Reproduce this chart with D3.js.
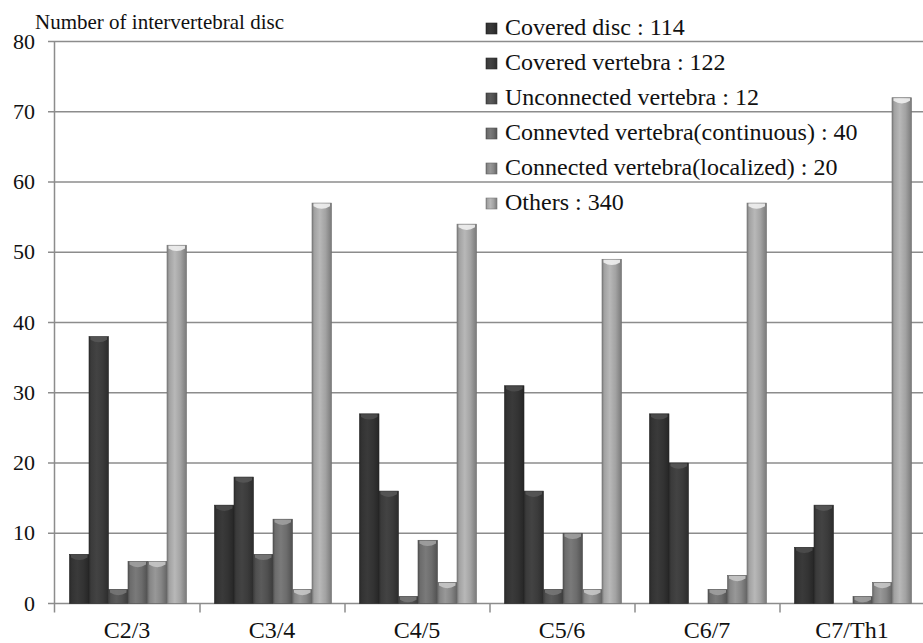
<!DOCTYPE html>
<html><head><meta charset="utf-8">
<script src="https://cdn.jsdelivr.net/npm/d3@7"></script>
<style>body{margin:0;background:#fff}svg{display:block}text{font-family:"Liberation Serif","Tinos","DejaVu Serif","Times New Roman",serif}</style>
</head><body>
<svg id="c" width="923" height="643"></svg>
<script>
const categories = ["C2/3","C3/4","C4/5","C5/6","C6/7","C7/Th1"];
const seriesNames = ["Covered disc : 114","Covered vertebra : 122","Unconnected vertebra : 12","Connevted vertebra(continuous) : 40","Connected vertebra(localized) : 20","Others : 340"];
const coveredDisc = [7,14,27,31,27,8];
const coveredVertebra = [38,18,16,16,20,14];
const unconnected = [2,7,1,2,0,0];
const continuous = [6,12,9,10,2,1];
const localized = [6,2,3,2,4,3];
const others = [51,57,54,49,57,72];
const yTicks = [0,10,20,30,40,50,60,70,80];
const seriesColors = ["#333333","#3b3b3b","#505050","#6c6c6c","#868686","#a2a2a2"];
const seriesValues = [coveredDisc,coveredVertebra,unconnected,continuous,localized,others];

const svg = d3.select("#c");
const pLeft = 55, pRight = 925, pTop = 41.5, pBottom = 603.5;

const y = d3.scaleLinear().domain([0,80]).range([pBottom, pTop]);
const x0 = d3.scaleBand().domain(categories).range([pLeft, pRight]);
const x1 = d3.scaleBand().domain(d3.range(6)).range([14.5, 131.5]);

// gradients
const defs = svg.append("defs");
seriesColors.forEach((c,i)=>{
  const g = defs.append("linearGradient").attr("id","g"+i).attr("x1","0").attr("x2","1").attr("y1","0").attr("y2","0");
  const base = d3.color(c);
  [[0,base.darker(0.7)],[0.12,base],[0.4,base.brighter(0.35)],[0.7,base],[1,base.darker(0.8)]].forEach(([o,col])=>{
    g.append("stop").attr("offset",o).attr("stop-color",col.formatHex());
  });
});

// gridlines
svg.append("g").selectAll("line").data(yTicks).join("line")
  .attr("x1",48).attr("x2",923).attr("y1",d=>y(d)).attr("y2",d=>y(d))
  .attr("stroke","#8c8c8c").attr("stroke-width",1.5);

// y axis line
svg.append("line").attr("x1",pLeft-0.5).attr("x2",pLeft-0.5).attr("y1",pTop).attr("y2",pBottom+9)
  .attr("stroke","#8c8c8c").attr("stroke-width",1.5);

// category ticks
svg.append("g").selectAll("line").data(categories.slice(1)).join("line")
  .attr("x1",d=>x0(d)).attr("x2",d=>x0(d)).attr("y1",pBottom).attr("y2",pBottom+9)
  .attr("stroke","#8c8c8c").attr("stroke-width",1.5);

// y labels
svg.append("g").selectAll("text").data(yTicks).join("text")
  .attr("x",35).attr("y",d=>y(d)+7).attr("text-anchor","end")
  .attr("font-size",22).attr("fill","#111").text(d=>d);

// title
svg.append("text").attr("x",35).attr("y",29).attr("font-size",21)
  .attr("fill","#111").text("Number of intervertebral disc");

// bars
const groups = svg.append("g").selectAll("g").data(categories).join("g")
  .attr("transform",d=>`translate(${x0(d)},0)`);
groups.each(function(cat,ci){
  const g = d3.select(this);
  seriesValues.forEach((vals,si)=>{
    const v = vals[ci];
    if(v<=0) return;
    const bx = x1(si), bw = x1.bandwidth(), by = y(v), bh = y(0)-y(v);
    g.append("rect").attr("x",bx).attr("y",by).attr("width",bw).attr("height",bh)
      .attr("fill",`url(#g${si})`).attr("stroke",d3.color(seriesColors[si]).darker(1).formatHex()).attr("stroke-width",0.6);
    const capH = Math.min(7, bh);
    const base = d3.color(seriesColors[si]);
    g.append("path")
      .attr("d",`M${bx+1.5},${by+0.5} L${bx+bw-1.5},${by+0.5} L${bx+bw-1.5},${by+capH*0.45} Q${bx+bw/2},${by+capH*1.2} ${bx+1.5},${by+capH*0.45} Z`)
      .attr("fill",base.brighter(1.1).formatHex()).attr("opacity",0.9);
  });
});

// x labels
svg.append("g").selectAll("text").data(categories).join("text")
  .attr("x",d=>x0(d)+x0.bandwidth()/2-0.5).attr("y",638).attr("text-anchor","middle")
  .attr("font-size",24).attr("fill","#111").text(d=>d);

// legend
const lg = svg.append("g").selectAll("g").data(seriesNames).join("g")
  .attr("transform",(d,i)=>`translate(486,${23+i*35})`);
lg.append("rect").attr("width",11).attr("height",11).attr("fill",(d,i)=>`url(#g${i})`)
  .attr("stroke",(d,i)=>d3.color(seriesColors[i]).darker(0.8).formatHex()).attr("stroke-width",0.6);
lg.append("text").attr("x",19).attr("y",12).attr("font-size",24)
  .attr("fill","#111").text(d=>d);
</script>
</body></html>
